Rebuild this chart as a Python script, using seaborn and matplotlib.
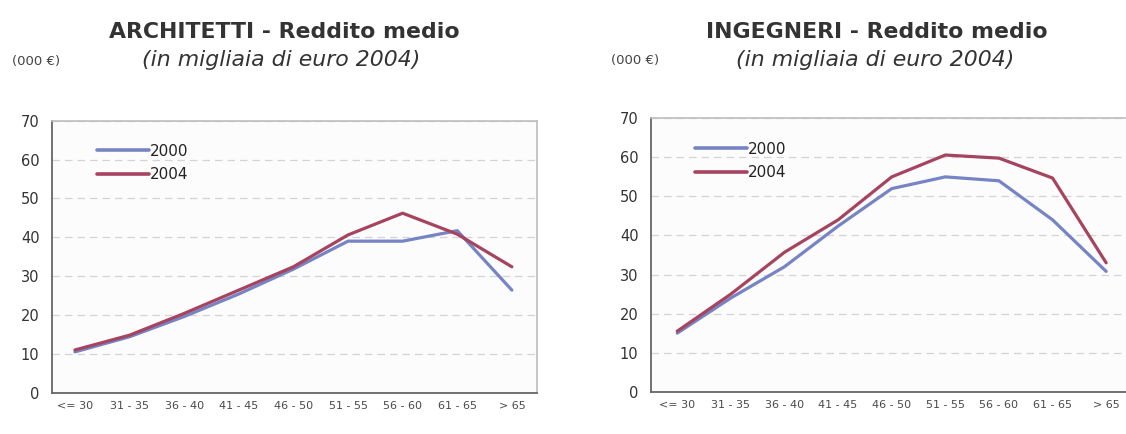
import matplotlib
matplotlib.use("Agg")
import matplotlib.pyplot as plt
import seaborn as sns
import pandas as pd

# ---- data ----
age_groups_left = ["<= 30", "31 - 35", "36 - 40", "41 - 45", "46 - 50",
                   "51 - 55", "56 - 60", "61 - 65", "> 65"]
age_groups_right = ["<= 30", "31 - 35", "36 - 40", "41 - 45", "46 - 50",
                    "51 - 55", "56 - 60", "61 - 65", "> 65"]
years = ["2000", "2004"]

arch_2000 = [10.5, 14.4, 19.6, 25.4, 31.8, 39.0, 39.0, 41.7, 26.4]
arch_2004 = [11.0, 14.8, 20.4, 26.4, 32.4, 40.6, 46.2, 40.8, 32.4]

ing_2000 = [15.0, 24.0, 32.0, 42.4, 52.0, 55.0, 54.0, 44.0, 30.8]
ing_2004 = [15.5, 25.0, 35.7, 44.0, 55.0, 60.6, 59.8, 54.7, 33.0]

titles = ["ARCHITETTI - Reddito medio", "INGEGNERI - Reddito medio"]
subtitle = "(in migliaia di euro 2004)"
unit_label = "(000 €)"
y_ticks = [0, 10, 20, 30, 40, 50, 60, 70]

palette = {"2000": "#7784c4", "2004": "#a6445f"}

sns.set_style("white")
plt.rcParams["font.family"] = ["DejaVu Sans"]

W, H = 1126, 434
fig = plt.figure(figsize=(W / 100, H / 100), dpi=100)


def make_df(cats, s2000, s2004):
    rows = []
    for y, vals in zip(years, [s2000, s2004]):
        for c, v in zip(cats, vals):
            rows.append({"age": c, "value": v, "year": y})
    return pd.DataFrame(rows)


def px_axes(l, r, top, bottom):
    return [l / W, 1 - bottom / H, (r - l) / W, (bottom - top) / H]


panels = [
    dict(rect=px_axes(52, 537, 120.7, 392.7), xlim=(-0.42, 8.46),
         cats=age_groups_left, d0=arch_2000, d4=arch_2004, right_spine=True,
         leg=(0.093, 0.915)),
    dict(rect=px_axes(651, 1126, 118.3, 391.7), xlim=(-0.49, 8.37),
         cats=age_groups_right, d0=ing_2000, d4=ing_2004, right_spine=False,
         leg=(0.093, 0.915)),
]

for p in panels:
    ax = fig.add_axes(p["rect"])
    ax.set_facecolor("#fcfcfc")
    df = make_df(p["cats"], p["d0"], p["d4"])
    sns.lineplot(data=df, x="age", y="value", hue="year", palette=palette,
                 sort=False, linewidth=2.3, ax=ax)
    ax.set_ylim(0, 70)
    ax.set_xlim(*p["xlim"])
    ax.set_yticks(y_ticks)
    ax.set_yticklabels([str(t) for t in y_ticks], fontsize=10.5, color="#333333")
    ax.set_xticks(range(len(p["cats"])))
    ax.set_xticklabels(p["cats"], fontsize=8, color="#4a4a4a")
    ax.tick_params(axis="both", length=0)
    ax.tick_params(axis="y", pad=9)
    ax.tick_params(axis="x", pad=6)
    ax.set_xlabel("")
    ax.set_ylabel("")
    ax.yaxis.grid(True, color="#d4d4d4", linewidth=0.9, linestyle=(0, (6, 4)))
    ax.set_axisbelow(True)
    for side in ["left", "bottom"]:
        ax.spines[side].set_color("#666666")
        ax.spines[side].set_linewidth(1.3)
    ax.spines["top"].set_color("#bdbdbd")
    ax.spines["top"].set_linewidth(1.2)
    ax.spines["right"].set_color("#bdbdbd")
    ax.spines["right"].set_linewidth(1.2)
    ax.spines["right"].set_visible(p["right_spine"])
    leg = ax.legend(loc="upper left", bbox_to_anchor=p["leg"], frameon=False,
                    fontsize=11, handlelength=3.4, handletextpad=0.05,
                    labelspacing=0.55, borderaxespad=0, borderpad=0)
    for t in leg.get_texts():
        t.set_color("#222222")
    for ln in leg.get_lines():
        ln.set_linewidth(2.6)

# ---- titles ----
def ftxt(x, y, s, **kw):
    fig.text(x / W, 1 - y / H, s, ha="center", va="center", **kw)

ftxt(284, 32, titles[0], fontsize=15.8, fontweight="bold", color="#333333")
ftxt(281, 60, subtitle, fontsize=15.8, fontstyle="italic", color="#333333")
ftxt(36, 61, unit_label, fontsize=9.5, color="#444444")

ftxt(877, 32, titles[1], fontsize=15.8, fontweight="bold", color="#333333")
ftxt(875, 60, subtitle, fontsize=15.8, fontstyle="italic", color="#333333")
ftxt(635, 60, unit_label, fontsize=9.5, color="#444444")

fig.savefig("out.png", dpi=100)
